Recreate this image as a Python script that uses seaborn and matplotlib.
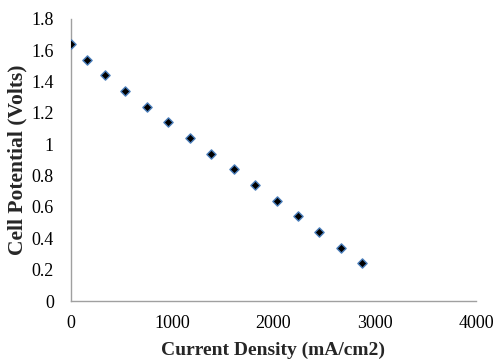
import matplotlib.pyplot as plt
import seaborn as sns
import pandas as pd

# Valori
current_density = [0, 160, 340, 540, 750, 960, 1180, 1390, 1610, 1820, 2040, 2240, 2450, 2670, 2880]
cell_potential = [1.64, 1.54, 1.44, 1.34, 1.24, 1.14, 1.04, 0.94, 0.84, 0.74, 0.64, 0.54, 0.44, 0.34, 0.24]
x_ticks = [0, 1000, 2000, 3000, 4000]
y_ticks = [0, 0.2, 0.4, 0.6, 0.8, 1.0, 1.2, 1.4, 1.6, 1.8]
y_tick_labels = ["0", "0.2", "0.4", "0.6", "0.8", "1", "1.2", "1.4", "1.6", "1.8"]

sns.set_style("white")
plt.rcParams["font.family"] = ["Liberation Serif", "DejaVu Serif"]

df = pd.DataFrame({"x": current_density, "y": cell_potential})

fig = plt.figure(figsize=(5, 3.64), dpi=100)
ax = fig.add_axes([0.141, 0.173, 0.811, 0.775])

sns.scatterplot(data=df, x="x", y="y", ax=ax, marker="D", s=22,
                color="black", edgecolor="#4a7ebb", linewidth=1.0, zorder=3)

ax.set_xlim(0, 4000)
ax.set_ylim(0, 1.8)
ax.set_xticks(x_ticks)
ax.set_yticks(y_ticks)
ax.set_yticklabels(y_tick_labels)
ax.tick_params(axis="both", length=0, labelsize=13, colors="black")
ax.tick_params(axis="x", pad=10)
ax.tick_params(axis="y", pad=12)

for side in ["top", "right"]:
    ax.spines[side].set_visible(False)
for side in ["left", "bottom"]:
    ax.spines[side].set_color("#a0a0a0")
    ax.spines[side].set_linewidth(1.0)

ax.set_xlabel("Current Density (mA/cm2)", fontsize=14, fontweight="bold", labelpad=7)
ax.set_ylabel("Cell Potential (Volts)", fontsize=15.5, fontweight="bold", labelpad=3)

fig.savefig("out.png", dpi=100)
